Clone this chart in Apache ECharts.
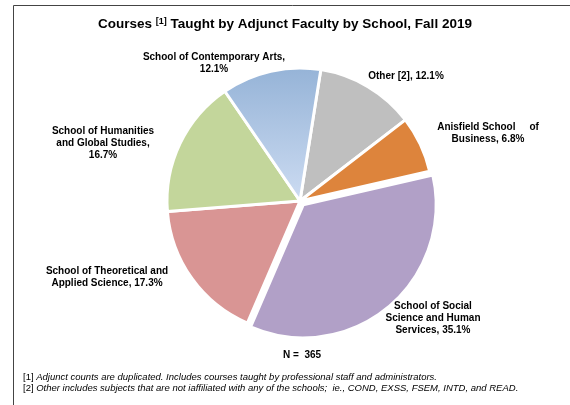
<!DOCTYPE html>
<html>
<head>
<meta charset="utf-8">
<script src="https://cdn.jsdelivr.net/npm/echarts@6/dist/echarts.min.js"></script>
<style>
  html, body { margin: 0; padding: 0; background: #fff; }
  #chart { width: 570px; height: 405px; }
</style>
</head>
<body>
<div id="chart"></div>
<script>
  // course counts by school, clockwise from the top (N = 365)
  var schools = [
    'Other [2]',
    'Anisfield School     of\nBusiness',
    'School of Social\nScience and Human\nServices',
    'School of Theoretical and\nApplied Science',
    'School of Humanities\nand Global Studies,\n',
    'School of Contemporary Arts,\n'
  ]
  var courses = [44, 25, 128, 63, 61, 44]
  var colors = ['#bfbfbf', '#dd843c', '#b1a0c7', '#d99594', '#c3d69b', null]
  var totalN = 365
  var notes = [
    ['[1]', 'Adjunct counts are duplicated. Includes courses taught by professional staff and administrators.'],
    ['[2]', 'Other includes subjects that are not iaffiliated with any of the schools;  ie., COND, EXSS, FSEM, INTD, and READ.']
  ]

  // label centres (layout only)
  var labelPos = [
    [406, 76], [488, 133], [447, 320], [107, 277], [103, 143], [214, 63]
  ]

  var chart = echarts.init(document.getElementById('chart'))

  var blueFill = new echarts.graphic.LinearGradient(0, 0, 0, 1, [
    { offset: 0, color: '#95b3d7' },
    { offset: 1, color: '#cddcf2' }
  ])

  var pieData = schools.map(function (name, i) {
    return {
      name: name,
      value: courses[i],
      selected: i === 2,
      itemStyle: { color: colors[i] || blueFill }
    }
  })

  var noteText = notes.map(function (n) {
    return '{n|' + n[0] + '} {i|' + n[1] + '}'
  }).join('\n')

  chart.setOption({
    animation: false,
    title: [{
      text: 'Courses {sup|[1]} Taught by Adjunct Faculty by School, Fall 2019',
      left: 'center',
      top: 12,
      textStyle: {
        fontFamily: 'Liberation Sans',
        fontSize: 13.5,
        fontWeight: 'bold',
        color: '#000',
        rich: {
          sup: { fontSize: 9, fontWeight: 'bold', fontFamily: 'Liberation Sans', verticalAlign: 'top', padding: [0, 0, 6, 0] }
        }
      }
    }, {
      text: 'N =  ' + totalN,
      left: 278,
      top: 345,
      textStyle: { fontFamily: 'Liberation Sans', fontSize: 10, fontWeight: 'bold', color: '#000' }
    }, {
      text: noteText,
      left: 18,
      top: 367,
      textStyle: {
        fontFamily: 'Liberation Sans',
        fontSize: 9.5,
        fontWeight: 'normal',
        color: '#000',
        lineHeight: 11,
        rich: {
          n: { fontFamily: 'Liberation Sans', fontSize: 9.5, color: '#000', lineHeight: 11 },
          i: { fontFamily: 'Liberation Sans', fontSize: 9.5, fontStyle: 'italic', color: '#000', lineHeight: 11 }
        }
      }
    }],
    graphic: [{
      type: 'rect',
      shape: { x: 13.5, y: 5.5, width: 700, height: 500 },
      style: { fill: 'none', stroke: '#444', lineWidth: 1 },
      silent: true
    }],
    series: [{
      type: 'pie',
      center: [300, 201],
      radius: 133,
      startAngle: 81,
      clockwise: true,
      selectedMode: 'single',
      selectedOffset: 5,
      itemStyle: { borderColor: '#fff', borderWidth: 3 },
      label: {
        show: true,
        position: 'outside',
        fontFamily: 'Liberation Sans',
        fontSize: 10,
        fontWeight: 'bold',
        color: '#000',
        lineHeight: 12,
        align: 'center',
        overflow: 'none',
        formatter: function (p) {
          var pct = (p.value / totalN * 100).toFixed(1) + '%'
          var name = p.name
          if (name.slice(-1) === '\n') return name + pct
          return name + ', ' + pct
        }
      },
      labelLine: { show: false },
      labelLayout: function (p) {
        return { x: labelPos[p.dataIndex][0], y: labelPos[p.dataIndex][1], align: 'center', verticalAlign: 'middle' }
      },
      emphasis: { disabled: true },
      data: pieData
    }]
  })
</script>
</body>
</html>
